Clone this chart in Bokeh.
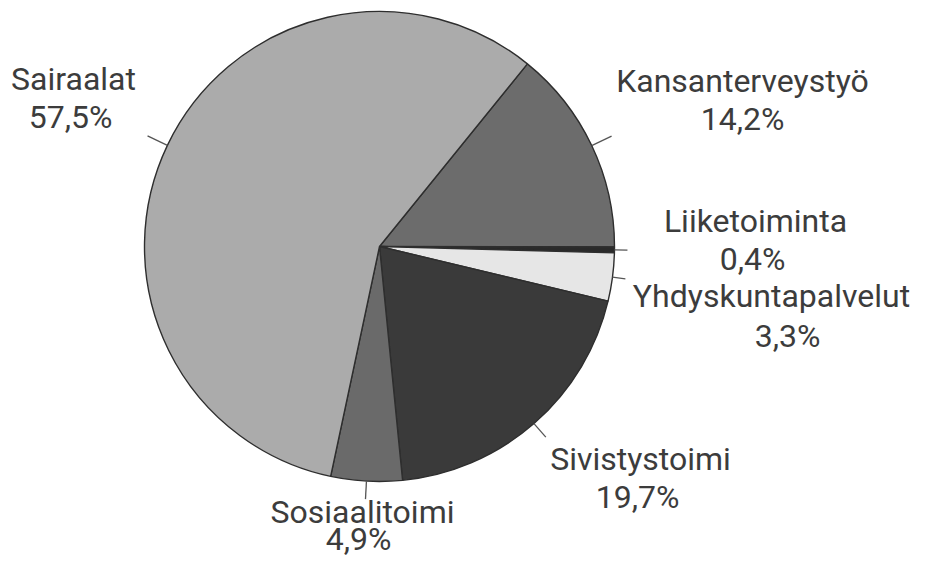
import math
from bokeh.plotting import figure
from bokeh.models import Range1d, ColumnDataSource
from bokeh.core.properties import value
from bokeh.embed import file_html
from bokeh.resources import INLINE

# ---- data (clockwise from the upper-right boundary) ----
categories = ["Kansanterveystyö", "Liiketoiminta", "Yhdyskuntapalvelut",
              "Sivistystoimi", "Sosiaalitoimi", "Sairaalat"]
shares = [14.2, 0.4, 3.3, 19.7, 4.9, 57.5]
share_labels = ["14,2%", "0,4%", "3,3%", "19,7%", "4,9%", "57,5%"]

# ---- style / layout ----
colors = ["#6c6c6c", "#2a2a2a", "#e6e6e6", "#3a3a3a", "#6a6a6a", "#ababab"]
PAGE_H = 575
BASE_SHIFT = 12  # compensates rendered baseline offset
def py(y):
    return PAGE_H - y

CX, CY, R = 379, py(246), 235
START_DEG = 51.0
leader_len = [22, 13, 13, 18, 18, 22]
name_pos = [(742, 92), (755, 232), (771, 307), (640, 470), (362, 523), (73, 90)]
pct_pos = [(742, 130), (752, 270), (787, 347), (637, 508), (358, 550), (70, 128)]
FONT = value("Roboto")
FSIZE = "32px"
TCOLOR = "#3c3c3c"

W, H = 915, 559
p = figure(width=W, height=H, output_backend="svg", toolbar_location=None,
           x_range=Range1d(0, W), y_range=Range1d(PAGE_H - H, PAGE_H),
           x_axis_type=None, y_axis_type=None, min_border=0,
           background_fill_color="white", border_fill_color="white",
           outline_line_color=None)

total = sum(shares)
starts, ends, mids = [], [], []
acc = 0.0
for s in shares:
    a0 = math.radians(START_DEG - acc / total * 360.0)
    a1 = math.radians(START_DEG - (acc + s) / total * 360.0)
    starts.append(a0)
    ends.append(a1)
    mids.append((a0 + a1) / 2)
    acc += s

src = ColumnDataSource(dict(start=starts, end=ends, color=colors, cat=categories))
p.wedge(x=CX, y=CY, radius=R, start_angle="start", end_angle="end",
        direction="clock", fill_color="color", line_color="#2e2e2e",
        line_width=1.4, source=src)

x0 = [CX + R * math.cos(m) for m in mids]
y0 = [CY + R * math.sin(m) for m in mids]
x1 = [CX + (R + L) * math.cos(m) for m, L in zip(mids, leader_len)]
y1 = [CY + (R + L) * math.sin(m) for m, L in zip(mids, leader_len)]
p.segment(x0=x0, y0=y0, x1=x1, y1=y1, line_color="#555555", line_width=1.3)

p.text(x=[q[0] for q in name_pos], y=[py(q[1] - BASE_SHIFT) for q in name_pos],
       text=categories, text_font=FONT, text_font_size=FSIZE, text_align="center",
       text_baseline="alphabetic", text_color=TCOLOR)
p.text(x=[q[0] for q in pct_pos], y=[py(q[1] - BASE_SHIFT) for q in pct_pos],
       text=share_labels, text_font=FONT, text_font_size=FSIZE, text_align="center",
       text_baseline="alphabetic", text_color=TCOLOR)

open("out.html", "w").write(file_html(p, INLINE))
